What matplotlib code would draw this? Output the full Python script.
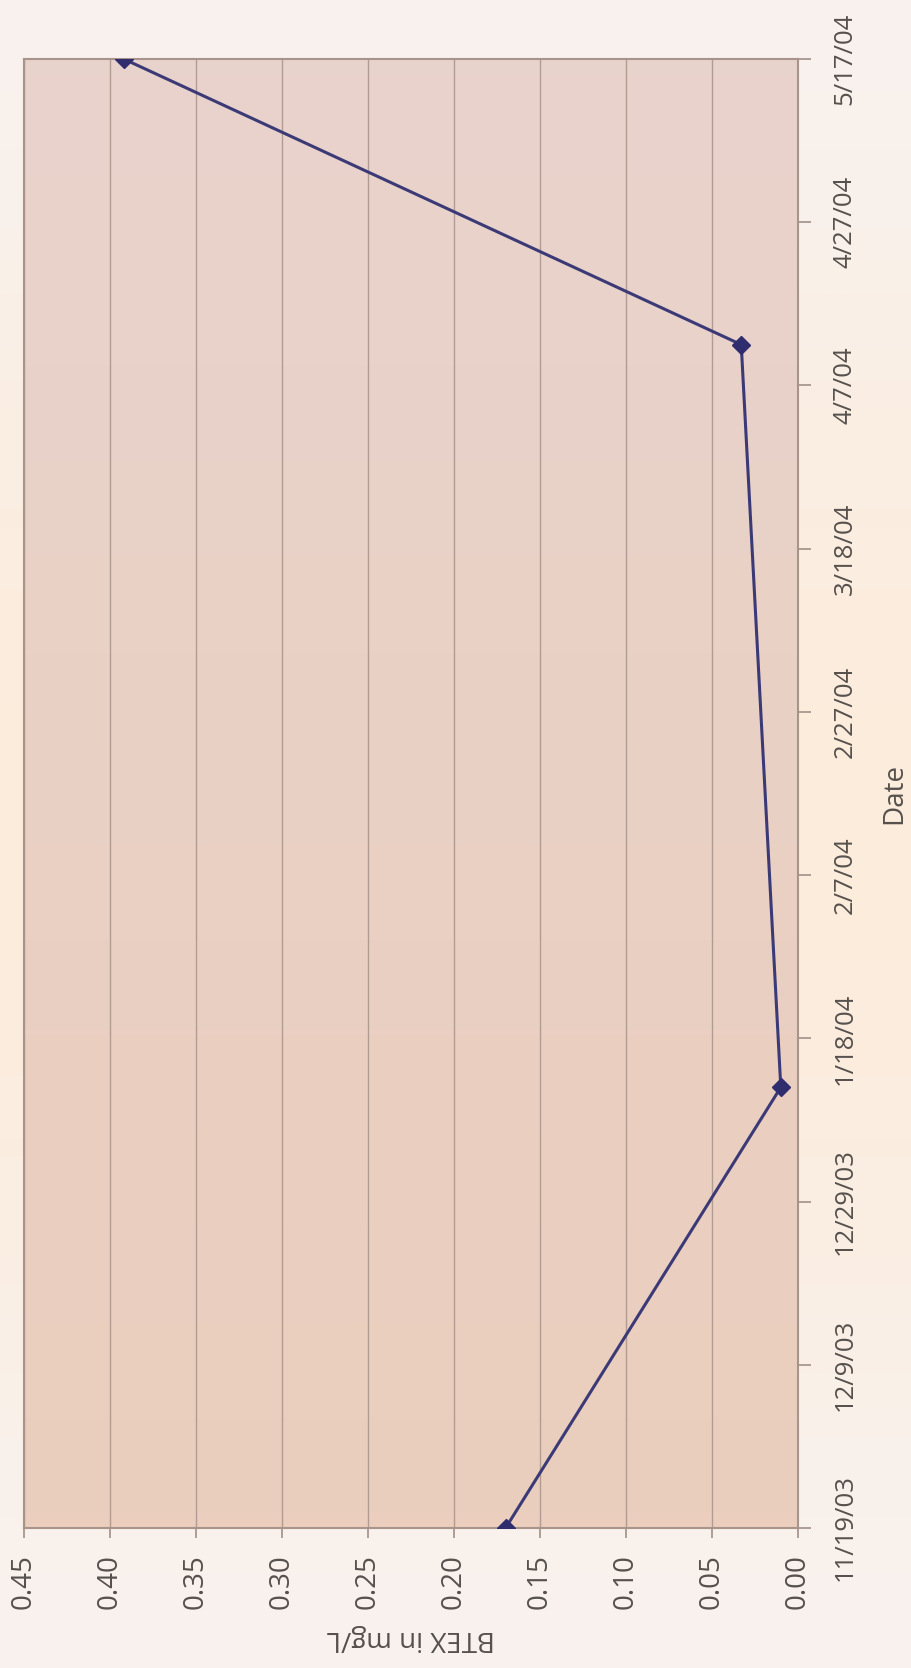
import datetime as dt
import numpy as np
import matplotlib
matplotlib.use("Agg")
import matplotlib.pyplot as plt

# BTEX samples
sample_dates = ["2003-11-19", "2004-01-12", "2004-04-12", "2004-05-17"]
btex_mg_l = [0.17, 0.01, 0.033, 0.392]

date_ticks = ["11/19/03", "12/9/03", "12/29/03", "1/18/04", "2/7/04",
              "2/27/04", "3/18/04", "4/7/04", "4/27/04", "5/17/04"]
value_ticks = [0.45, 0.40, 0.35, 0.30, 0.25, 0.20, 0.15, 0.10, 0.05, 0.00]

TEXT = "#57514e"
NAVY = "#302d6e"

plt.rcParams["font.family"] = ["Open Sans", "DejaVu Sans"]

dates = [dt.datetime.strptime(d, "%Y-%m-%d") for d in sample_dates]
tick_dates = [dt.datetime.strptime(t, "%m/%d/%y") for t in date_ticks]

fig = plt.figure(figsize=(9.12, 16.68), dpi=100)

# soft cream background, lighter at top and bottom
bg = fig.add_axes([0, 0, 1, 1], zorder=-10)
grad = np.array([[0.0], [0.6], [1.0], [1.0], [0.6], [0.0]])
cmap_bg = matplotlib.colors.LinearSegmentedColormap.from_list("bg", ["#f8f2ee", "#fcecdc"])
bg.imshow(grad, cmap=cmap_bg, aspect="auto", extent=[0, 1, 0, 1], interpolation="bicubic")
bg.axis("off")

ax = fig.add_axes([24 / 912, 1 - 1528 / 1668, 774 / 912, 1469 / 1668])

# chart is laid on its side: dates run up the right edge, values run right-to-left
ax.plot(btex_mg_l, dates, color="#3b3a76", lw=2.2, marker="D", ms=9,
        mfc=NAVY, mec=NAVY, zorder=5)

ax.set_xticks(value_ticks)
ax.set_xticklabels([f"{v:.2f}" for v in value_ticks], rotation=90)
ax.set_yticks(tick_dates)
ax.set_yticklabels(date_ticks, rotation=90, va="center")
ax.yaxis.tick_right()

ax.tick_params(axis="x", length=7, width=1.2, color="#a09088", pad=12,
               labelsize=20, labelcolor=TEXT)
ax.tick_params(axis="y", length=9, width=1.2, color="#a09088", pad=16,
               labelsize=18.5, labelcolor=TEXT)

ax.grid(axis="x", color="#b09c92", lw=1.0)
ax.set_axisbelow(True)

# plot area fill, slightly pinker towards the top
cmap_pa = matplotlib.colors.LinearSegmentedColormap.from_list("pa", ["#ebcebd", "#e8d3cc"])
ax.imshow(np.linspace(0, 1, 50).reshape(-1, 1)[::-1], cmap=cmap_pa, aspect="auto",
          extent=[0, 1, 0, 1], transform=ax.transAxes, zorder=0, interpolation="bicubic")
ax.set_xlim(0.45, 0.0)
ax.set_ylim(tick_dates[0], tick_dates[-1])

for s in ax.spines.values():
    s.set_color("#a8948a")
    s.set_linewidth(1.5)

ax.set_xlabel("BTEX in mg/L", rotation=180, fontsize=20, color=TEXT,
              ha="center", va="center")
ax.xaxis.set_label_coords(0.5, -0.075)
ax.yaxis.set_label_position("right")
ax.set_ylabel("Date", rotation=90, fontsize=20, color=TEXT, ha="center", va="center")
ax.yaxis.set_label_coords(1.125, 0.5)

fig.savefig("out.png", dpi=100)
